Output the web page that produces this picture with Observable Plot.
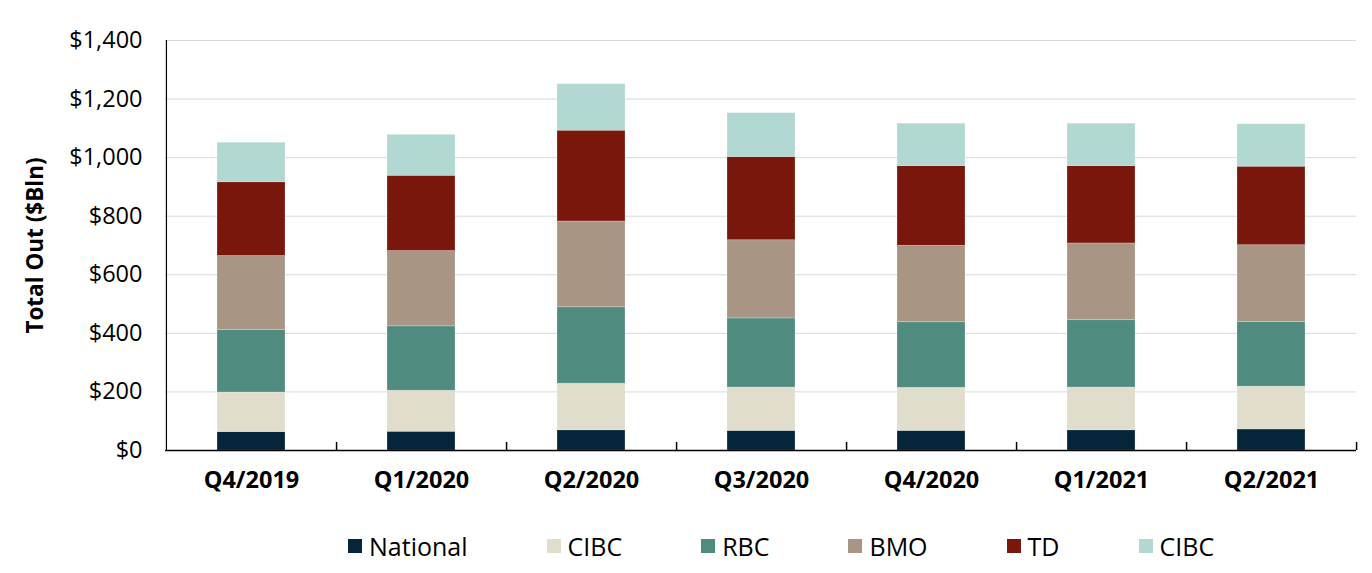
<!DOCTYPE html>
<html><head><meta charset="utf-8">
<script src="https://cdn.jsdelivr.net/npm/d3@7"></script>
<script src="https://cdn.jsdelivr.net/npm/@observablehq/plot@0.6"></script>
<style>
body{margin:0;background:#fff;font-family:"Open Sans",sans-serif;width:1372px;height:573px;position:relative;overflow:hidden;}
#legend{position:absolute;left:348px;top:532px;height:28px;display:flex;align-items:center;font-size:25px;color:#000;}
#legend .item{display:flex;align-items:center;margin-right:79px;}
#legend .sw{width:14px;height:14px;margin-right:7px;}
</style></head><body><div id="chart"></div><div id="legend"></div>
<script>
const quarters = ["Q4/2019","Q1/2020","Q2/2020","Q3/2020","Q4/2020","Q1/2021","Q2/2021"];
const national = [63,64,69,67,67,69,72];
const cibcA    = [135,140,159,148,147,146,146];
const rbc      = [214,220,261,236,224,230,221];
const bmo      = [252,257,293,267,261,262,262];
const td       = [252,257,310,284,272,264,268];
const cibcB    = [135,140,159,150,145,145,145];
const seriesKeys   = ["National","CIBC-1","RBC","BMO","TD","CIBC-2"];
const seriesLabels = ["National","CIBC","RBC","BMO","TD","CIBC"];
const seriesColors = ["#05263a","#e0ddcc","#508b80","#a89584","#7a170d","#b1d9d1"];
const seriesValues = [national,cibcA,rbc,bmo,td,cibcB];
const yTicks = [0,200,400,600,800,1000,1200,1400];

const rows = [];
seriesKeys.forEach((k,i)=>quarters.forEach((q,j)=>rows.push({quarter:q,key:k,value:seriesValues[i][j]})));

const W=1372,H=510,ML=165,MR=16,MT=40,MB=60;
const half=(W-ML-MR)/quarters.length/2;

const chart = Plot.plot({
  width:W,height:H,marginLeft:ML,marginRight:MR,marginTop:MT,marginBottom:MB,
  style:{fontFamily:"Open Sans",color:"#000",background:"#fff",overflow:"visible"},
  x:{domain:quarters,paddingInner:0.6,paddingOuter:0.3,axis:null},
  y:{domain:[0,1400],axis:null},
  color:{domain:seriesKeys,range:seriesColors},
  marks:[
    Plot.gridY(yTicks,{stroke:"#d9d9d9",strokeOpacity:1}),
    Plot.barY(rows,{x:"quarter",y:"value",fill:"key",stroke:"#ffffff",strokeOpacity:0.3,strokeWidth:0.75}),
    Plot.axisY({ticks:yTicks,tickFormat:d=>"$"+d3.format(",")(d),tickSize:0,tickPadding:23,fontSize:23.5,label:null}),
    Plot.axisX({tickSize:0,tickPadding:21,fontSize:23.5,fontWeight:"bold",label:null}),
    Plot.axisX({tickSize:8,dy:-8,dx:half,tickFormat:()=>"",label:null,stroke:"#000",strokeWidth:1.5}),
    Plot.ruleY([0],{stroke:"#000",strokeWidth:1.5}),
    Plot.ruleX([quarters[0]],{dx:-half,y1:0,y2:1400,stroke:"#000",strokeWidth:1.2}),
    Plot.text(["Total Out ($Bln)"],{frameAnchor:"left",textAnchor:"middle",rotate:-90,dx:-130,fontSize:22.5,fontWeight:"bold",fill:"#000"})
  ]
});
document.getElementById("chart").appendChild(chart);

const leg=document.getElementById("legend");
seriesKeys.forEach((k,i)=>{
  const it=document.createElement("div");it.className="item";
  const sw=document.createElement("span");sw.className="sw";sw.style.background=seriesColors[i];
  const tx=document.createElement("span");tx.textContent=seriesLabels[i];
  it.appendChild(sw);it.appendChild(tx);leg.appendChild(it);
});
</script></body></html>
